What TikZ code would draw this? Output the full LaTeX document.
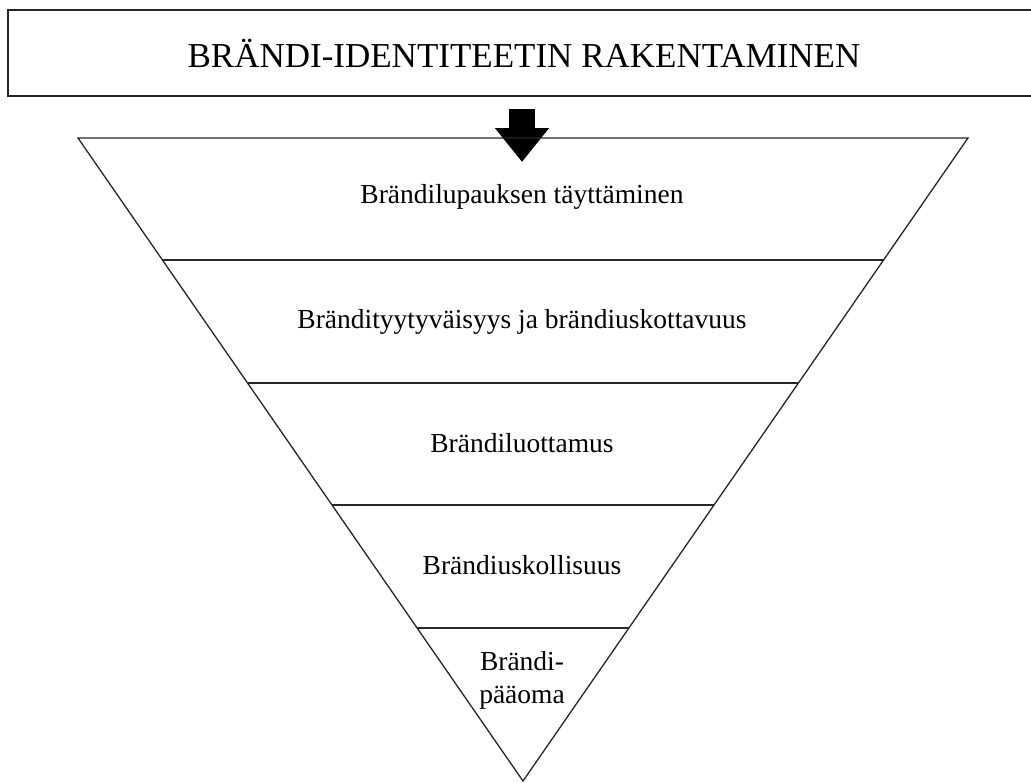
\documentclass[tikz,border=0pt]{standalone}
\usepackage{fontspec}
\setmainfont{Liberation Serif}
\usetikzlibrary{positioning,calc,arrows.meta}

\tikzset{
  band/.style={font=\fontsize{27.5}{30}\selectfont, align=center},
  edge/.style={line width=1.3pt, draw=black!85}
}

\begin{document}
\begin{tikzpicture}[x=1pt, y=-1pt]
    \useasboundingbox (0,0) rectangle (1031,782);
    % Title box
    \node[draw, edge, minimum width=1032pt, minimum height=86pt, inner sep=0pt,
          font=\fontsize{35}{38}\selectfont] (title) at (524,53) {BRÄNDI-IDENTITEETIN RAKENTAMINEN};
    % Arrow
    \coordinate (arrtop) at (522,109);
    \coordinate (arrtip) at (522,162);
    \draw[line width=26pt, -{Triangle[width=52pt, length=34pt]}] (arrtop) -- (arrtip);
    % Triangle
    \coordinate (tl) at (78,138);
    \coordinate (tr) at (968,138);
    \coordinate (apex) at (523,781);
    \draw[edge, line join=miter] (tl) -- (tr) -- (apex) -- cycle;
    % Layers
    \foreach \y/\n in {260/a, 383/b, 505/c, 628/d} {
        \draw[edge] ($(tl)!{(\y-138)/643}!(apex)$) coordinate (l\n)
            -- ($(tr)!{(\y-138)/643}!(apex)$) coordinate (r\n);
    }
    \node[band] (promise) at (522,197) {Brändilupauksen täyttäminen};
    \node[band] (satisf) at (522,322) {Brändityytyväisyys ja brändiuskottavuus};
    \node[band] (trust) at (522,443) {Brändiluottamus};
    \node[band] (loyal) at (522,565) {Brändiuskollisuus};
    \node[band, font=\fontsize{27.5}{33}\selectfont] (equity) at (522,680) {Brändi-\\pääoma};
\end{tikzpicture}
\end{document}
